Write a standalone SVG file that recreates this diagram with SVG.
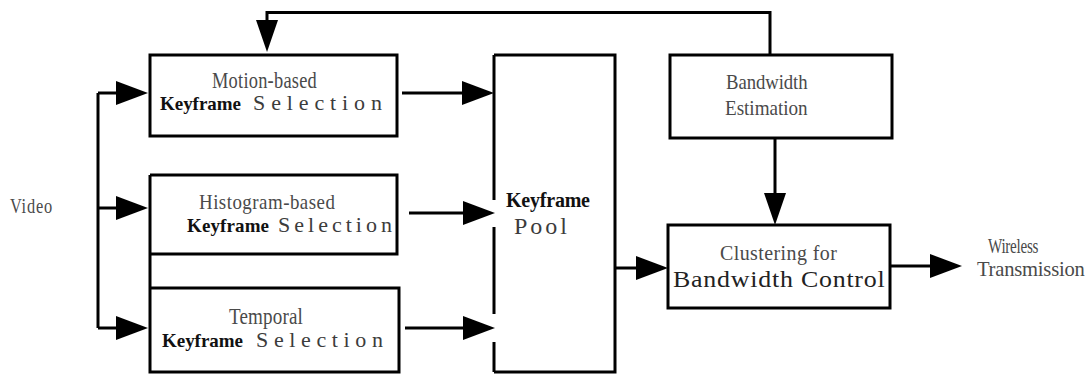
<svg xmlns="http://www.w3.org/2000/svg" width="1088" height="377" viewBox="0 0 1088 377">
  <defs>
    <!-- solid triangular arrowhead; the line stops 28px short of the tip -->
    <marker id="ah" viewBox="0 0 32 24" markerWidth="32" markerHeight="24" refX="4" refY="12" orient="auto" markerUnits="userSpaceOnUse">
      <path d="M0,0 L32,12 L0,24 Z" fill="#000"/>
    </marker>
    <marker id="ahs" viewBox="0 0 32 22" markerWidth="32" markerHeight="22" refX="4" refY="11" orient="auto" markerUnits="userSpaceOnUse">
      <path d="M0,0 L32,11 L0,22 Z" fill="#000"/>
    </marker>
  </defs>
  <style>
    .box { fill: none; stroke: #000; stroke-width: 3; }
    .edge { fill: none; stroke: #000; stroke-width: 3; }
    .conn { fill: none; stroke: #000; stroke-width: 3; }
    .arr { marker-end: url(#ah); }
    .arrs { marker-end: url(#ahs); }
    /* narrow grey labels: serif squeezed horizontally by each text's transform */
    .nar { font-family: "Liberation Serif", "DejaVu Serif", serif; fill: #4a4a4a; }
    .kf { font-family: "Liberation Serif", "DejaVu Serif", serif; font-weight: bold; fill: #111; }
    .sel { font-family: "Liberation Serif", "DejaVu Serif", serif; fill: #3c3c3c; }
    .big { font-family: "Liberation Serif", "DejaVu Serif", serif; fill: #222; }
  </style>
  <rect width="1088" height="377" fill="#fff"/>

  <!-- connectors -->
  <g id="connectors">
    <!-- feedback from bandwidth estimation to motion-based selection -->
    <path class="conn arrs" d="M770,55 V12.5 H267 V24"/>
    <!-- video splits into three selectors -->
    <path class="conn" d="M98,93 V328"/>
    <path class="conn arr" d="M98,93 H120"/>
    <path class="conn arr" d="M98,208 H120"/>
    <path class="conn arr" d="M98,328 H120"/>
    <!-- selectors feed the keyframe pool -->
    <path class="conn arr" d="M402,93 H466"/>
    <path class="conn arr" d="M409,213 H467"/>
    <path class="conn arr" d="M405,328 H467"/>
    <!-- pool to clustering -->
    <path class="conn arr" d="M615,268 H640"/>
    <!-- estimation to clustering -->
    <path class="conn arrs" d="M775,138 V197"/>
    <!-- clustering to wireless transmission -->
    <path class="conn arr" d="M890,266 H934"/>
  </g>

  <g id="video">
    <text class="nar" transform="translate(10 213) scale(0.78 1)" font-size="21" textLength="54" lengthAdjust="spacing">Video</text>
  </g>

  <g id="motion">
    <rect class="box" x="150" y="55" width="247" height="81"/>
    <text class="nar" transform="translate(212 88) scale(0.8 1)" font-size="23" textLength="131" lengthAdjust="spacing">Motion-based</text>
    <text class="kf" x="160" y="110" font-size="19" textLength="81" lengthAdjust="spacing">Keyframe</text>
    <text class="sel" x="253" y="110" font-size="22" textLength="129" lengthAdjust="spacing">Selection</text>
  </g>

  <g id="histogram">
    <path class="edge" d="M150,175 H397 V254 H150"/>
    <text class="nar" transform="translate(199 209) scale(0.86 1)" font-size="22" textLength="158" lengthAdjust="spacing">Histogram-based</text>
    <text class="kf" x="187" y="232" font-size="19" textLength="82" lengthAdjust="spacing">Keyframe</text>
    <text class="sel" x="278" y="232" font-size="22" textLength="114" lengthAdjust="spacing">Selection</text>
  </g>

  <g id="temporal">
    <path class="edge" d="M150,175 V372 H399 V288 H150"/>
    <text class="nar" transform="translate(229 324) scale(0.83 1)" font-size="23" textLength="89" lengthAdjust="spacing">Temporal</text>
    <text class="kf" x="162" y="347" font-size="19" textLength="81" lengthAdjust="spacing">Keyframe</text>
    <text class="sel" x="256" y="347" font-size="22" textLength="127" lengthAdjust="spacing">Selection</text>
  </g>

  <g id="pool">
    <path class="edge" d="M494,55 H615 V372 H494"/>
    <path class="edge" d="M494,55 V200 M494,227 V314 M494,342 V372"/>
    <text class="kf" x="506" y="207" font-size="20" textLength="84" lengthAdjust="spacing">Keyframe</text>
    <text class="sel" x="514" y="234" font-size="24" textLength="53" lengthAdjust="spacing">Pool</text>
  </g>

  <g id="estimation">
    <rect class="box" x="670" y="55" width="222" height="83"/>
    <text class="nar" transform="translate(726 89) scale(0.85 1)" font-size="22" textLength="96" lengthAdjust="spacing">Bandwidth</text>
    <text class="nar" transform="translate(725 115) scale(0.87 1)" font-size="22" textLength="95" lengthAdjust="spacing">Estimation</text>
  </g>

  <g id="clustering">
    <rect class="box" x="668" y="225" width="222" height="83"/>
    <text class="nar" transform="translate(720 260) scale(0.95 1)" font-size="21" textLength="123" lengthAdjust="spacing">Clustering for</text>
    <text class="big" transform="translate(673 287) scale(1.08 1)" font-size="24" textLength="196" lengthAdjust="spacing">Bandwidth Control</text>
  </g>

  <g id="output">
    <text class="nar" transform="translate(988 253) scale(0.72 1)" font-size="21" textLength="70" lengthAdjust="spacing">Wireless</text>
    <text class="nar" transform="translate(977 276) scale(0.98 1)" font-size="21" textLength="110" lengthAdjust="spacing">Transmission</text>
  </g>
</svg>
